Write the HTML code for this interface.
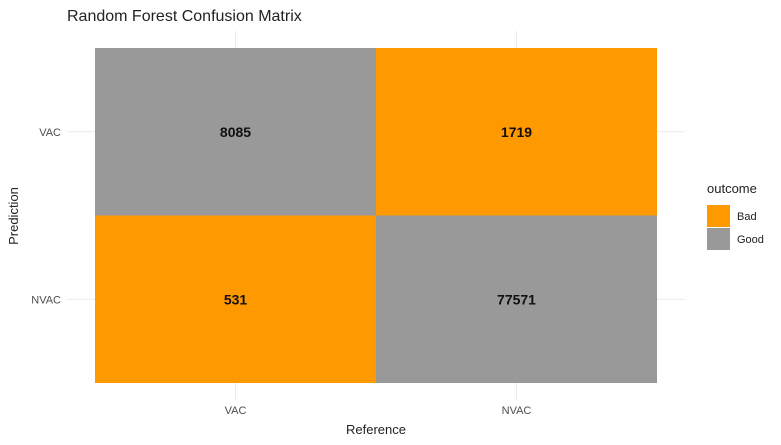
<!DOCTYPE html>
<html><head><meta charset="utf-8"><style>
body{margin:0;background:#fff}
svg{display:block;font-family:"Liberation Sans",sans-serif}
</style></head><body>
<svg width="781" height="445">
<g id="grid"></g>
<g id="tiles"></g>
<g id="labels"></g>
<g id="axes"></g>
<text x="67" y="21" font-size="16" fill="#222">Random Forest Confusion Matrix</text>
<text x="376" y="434" font-size="13" fill="#222" text-anchor="middle">Reference</text>
<text x="0" y="0" font-size="13" fill="#222" text-anchor="middle" transform="translate(18,216) rotate(-90)">Prediction</text>
<g>
<text x="707" y="193" font-size="13" fill="#222">outcome</text>
<rect x="707" y="205" width="23" height="22" fill="#FF9900"/>
<text x="737" y="220" font-size="11" fill="#222">Bad</text>
<rect x="707" y="228" width="23" height="22" fill="#999999"/>
<text x="737" y="243" font-size="11" fill="#222">Good</text>
</g>
</svg>
<script>
const xCats=["VAC","NVAC"];
const yCats=["NVAC","VAC"];
const cellRef=["VAC","NVAC","VAC","NVAC"];
const cellPred=["VAC","VAC","NVAC","NVAC"];
const cellVals=[8085,1719,531,77571];
const cellOutcome=["Good","Bad","Bad","Good"];
const colors={Bad:"#FF9900",Good:"#999999"};
const NS="http://www.w3.org/2000/svg";
const px0=95,pw=562,py0=48,ph=335;
function xs(c){const i=xCats.indexOf(c);return px0+pw/xCats.length*(i+0.5);}
function ys(c){const i=yCats.indexOf(c);return py0+ph-ph/yCats.length*(i+0.5);}
const cw=pw/xCats.length,ch=ph/yCats.length;
function mk(tag,a,p){const e=document.createElementNS(NS,tag);for(const k in a)e.setAttribute(k,a[k]);document.getElementById(p).appendChild(e);return e;}
xCats.forEach(c=>{const l=mk('line',{x1:xs(c),x2:xs(c),y1:31,y2:400,stroke:'#ebebeb','stroke-width':1},'grid');


const t=mk('text',{x:xs(c),y:414,'font-size':11,fill:'#4d4d4d','text-anchor':'middle'},'axes');t.textContent=c;

});
yCats.forEach(c=>{const l=mk('line',{x1:67,x2:685,y1:ys(c),y2:ys(c),stroke:'#ebebeb','stroke-width':1},'grid');


const t=mk('text',{x:61,y:ys(c)+4,'font-size':11,fill:'#4d4d4d','text-anchor':'end'},'axes');t.textContent=c;

});
cellVals.forEach((v,i)=>{const cx=xs(cellRef[i]),cy=ys(cellPred[i]);
const r=mk('rect',{x:cx-cw/2,y:cy-ch/2,width:cw,height:ch,fill:colors[cellOutcome[i]]},'tiles');


const t=mk('text',{x:cx,y:cy+5,'font-size':14,'font-weight':'bold',fill:'#111','text-anchor':'middle'},'labels');t.textContent=v;

});
</script>
</body></html>
